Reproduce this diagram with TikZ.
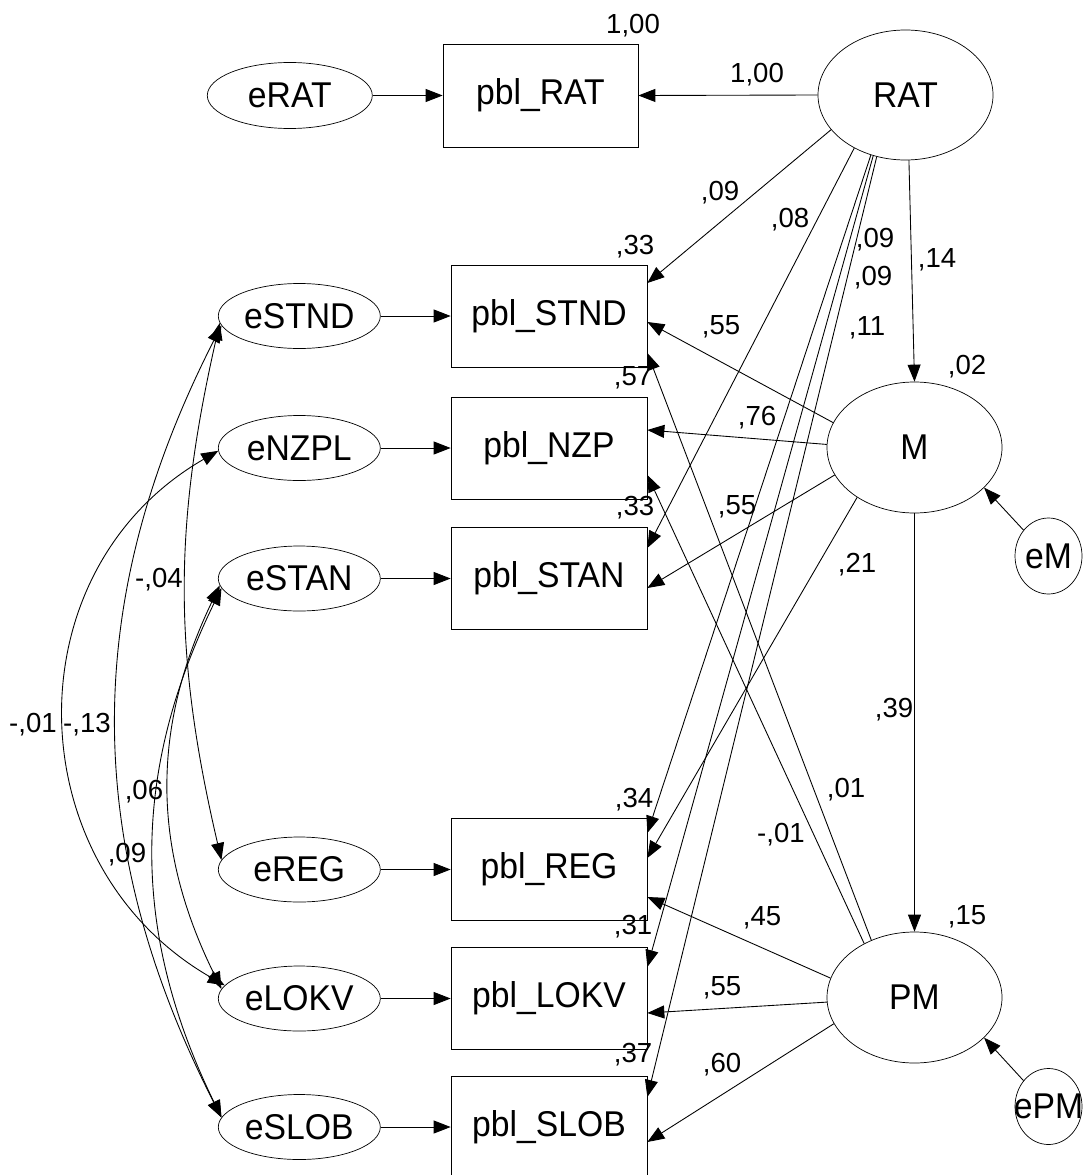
\documentclass[tikz,border=0pt]{standalone}
\usepackage{fontspec}
\setmainfont{Liberation Sans}
\newfontfamily\tallsans[FakeStretch=0.94]{Liberation Sans}
\usepackage{tikz}
\usetikzlibrary{positioning,arrows.meta,shapes.geometric}

\newcommand{\boxfont}{\tallsans\fontsize{20.4}{23}\selectfont}
\newcommand{\estfont}{\fontsize{15.7}{18}\selectfont}

\begin{document}
\begin{tikzpicture}[
    node distance=1.4cm,
    obs/.style={draw, rectangle, minimum width=3.92cm, minimum height=2.04cm, inner sep=0pt, font=\boxfont},
    lat/.style={draw, ellipse, minimum width=3.5cm, minimum height=2.62cm, inner sep=0pt, font=\boxfont},
    err/.style={draw, ellipse, minimum width=3.24cm, minimum height=1.3cm, inner sep=0pt, font=\boxfont},
    res/.style={draw, ellipse, minimum width=1.34cm, minimum height=1.52cm, inner ysep=0pt, inner xsep=-4mm, font=\boxfont},
    est/.style={inner sep=0pt, font=\estfont},
    arr/.style={-{Triangle[length=0.34cm,width=0.26cm]}, line width=0.5pt},
    cov/.style={{Triangle[length=0.34cm,width=0.26cm]}-{Triangle[length=0.34cm,width=0.26cm]}, line width=0.5pt}
  ]
  \useasboundingbox (0,0) rectangle (21.66,-23.5);

  \node[obs, minimum height=2.06cm, minimum width=3.9cm] (prat) at (10.81,-1.91) {pbl\_RAT};
  \node[err, minimum width=3.3cm, minimum height=1.32cm, left=of prat] (erat) {eRAT};
  \node[lat, minimum height=2.6cm] (rat) at (18.11,-1.90) {RAT};

  \node[obs] (stnd) at (10.98,-6.32) {pbl\_STND};
  \node[obs] (nzp) at (10.98,-8.96) {pbl\_NZP};
  \node[obs] (stan) at (10.98,-11.57) {pbl\_STAN};
  \node[obs] (reg) at (10.98,-17.39) {pbl\_REG};
  \node[obs] (lokv) at (10.98,-19.97) {pbl\_LOKV};
  \node[obs] (slob) at (10.98,-22.54) {pbl\_SLOB};

  \node[err, left=of stnd] (estnd) {eSTND};
  \node[err, left=of nzp] (enzpl) {eNZPL};
  \node[err, left=of stan] (estan) {eSTAN};
  \node[err, left=of reg] (ereg) {eREG};
  \node[err, left=of lokv] (elokv) {eLOKV};
  \node[err, left=of slob] (eslob) {eSLOB};

  \node[lat] (m) at (18.29,-8.95) {M};
  \node[lat] (pm) at (18.29,-19.95) {PM};
  \node[res] (em) at (20.97,-11.12) {eM};
  \node[res] (epm) at (20.97,-22.13) {ePM};

  \draw[arr] (erat) -- (prat);
  \draw[arr] (estnd) -- (stnd);
  \draw[arr] (enzpl) -- (nzp);
  \draw[arr] (estan) -- (stan);
  \draw[arr] (ereg) -- (reg);
  \draw[arr] (elokv) -- (lokv);
  \draw[arr] (eslob) -- (slob);

  \draw[arr] (rat.west) -- (prat.east);
  \draw[arr] (rat.205) -- ([yshift=0.66cm]stnd.east);
  \draw[arr] (rat.226) -- ([yshift=0.61cm]stan.east);
  \draw[arr] (rat.240) -- ([yshift=0.73cm]reg.east);
  \draw[arr] (rat.242) -- ([yshift=0.63cm]lokv.east);
  \draw[arr] (rat.245) -- ([yshift=0.6cm]slob.east);
  \draw[arr] (rat.273) -- (m.north);

  \draw[arr] (m.163) -- ([yshift=-0.12cm]stnd.east);
  \draw[arr] (m.178) -- ([yshift=0.36cm]nzp.east);
  \draw[arr] (m.199) -- ([yshift=-0.19cm]stan.east);
  \draw[arr] (m.221) -- ([yshift=0.23cm]reg.east);
  \draw[arr] (m.south) -- (pm.north);
  \draw[arr] (em.134) -- (m.330);

  \draw[arr] (pm.127) -- ([yshift=-0.74cm]stnd.east);
  \draw[arr] (pm.133) -- ([yshift=-0.54cm]nzp.east);
  \draw[arr] (pm.167) -- ([yshift=-0.55cm]reg.east);
  \draw[arr] (pm.183) -- ([yshift=-0.29cm]lokv.east);
  \draw[arr] (pm.198) -- ([yshift=-0.3cm]slob.east);
  \draw[arr] (epm.134) -- (pm.330);

  \draw[cov] (estnd.185) to[bend right=13] (ereg.173);
  \draw[cov] (estnd.187) to[bend right=27] (eslob.173);
  \draw[cov] (enzpl.182) to[out=210, in=150, looseness=1.15] (elokv.170);
  \draw[cov] (estan.185) to[bend right=26] (elokv.173);
  \draw[cov] (estan.187) to[bend right=26] (eslob.173);

  \node[est] (vprat) at (12.66,-0.52) {1,00};
  \node[est] (lrat) at (15.14,-1.50) {1,00};
  \node[est] (lratstnd) at (14.40,-3.86) {,09};
  \node[est] (lratstan) at (15.80,-4.40) {,08};
  \node[est] (lratreg) at (17.50,-4.80) {,09};
  \node[est] (lratlokv) at (17.46,-5.56) {,09};
  \node[est] (lratslob) at (17.34,-6.56) {,11};
  \node[est] (lratm) at (18.74,-5.20) {,14};
  \node[est] (vstnd) at (12.70,-4.94) {,33};
  \node[est] (lmstnd) at (14.42,-6.54) {,55};
  \node[est] (vnzp) at (12.66,-7.56) {,57};
  \node[est] (vm) at (19.34,-7.34) {,02};
  \node[est] (lmnzp) at (15.14,-8.36) {,76};
  \node[est] (vstan) at (12.70,-10.16) {,33};
  \node[est] (lmstan) at (14.74,-10.14) {,55};
  \node[est] (lmreg) at (17.14,-11.30) {,21};
  \node[est] (lmpm) at (17.88,-14.20) {,39};
  \node[est] (lpmstnd) at (16.92,-15.80) {,01};
  \node[est] (lpmnzp) at (15.62,-16.70) {-,01};
  \node[est] (vreg) at (12.68,-16.00) {,34};
  \node[est] (lpmreg) at (15.24,-18.36) {,45};
  \node[est] (vpm) at (19.34,-18.34) {,15};
  \node[est] (vlokv) at (12.66,-18.54) {,31};
  \node[est] (lpmlokv) at (14.44,-19.76) {,55};
  \node[est] (vslob) at (12.66,-21.10) {,37};
  \node[est] (lpmslob) at (14.44,-21.30) {,60};
  \node[est] (cstndreg) at (3.18,-11.60) {-,04};
  \node[est] (cnzplokv) at (0.66,-14.50) {-,01};
  \node[est] (cstndslob) at (1.74,-14.50) {-,13};
  \node[est] (cstanlokv) at (2.88,-15.84) {,06};
  \node[est] (cstanslob) at (2.54,-17.10) {,09};
\end{tikzpicture}
\end{document}
